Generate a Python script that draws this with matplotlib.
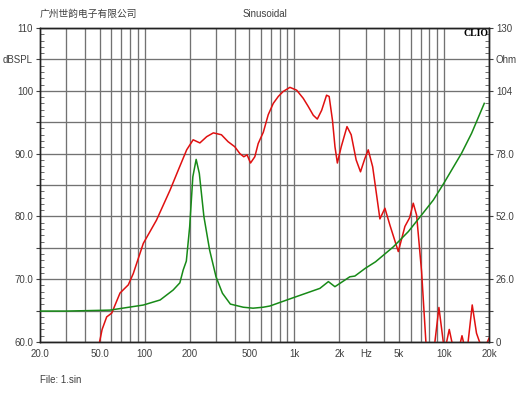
"""CLIO sinusoidal sweep: SPL and impedance vs frequency."""

import matplotlib
matplotlib.use("Agg")
import matplotlib.pyplot as plt
from matplotlib.ticker import FixedLocator, MultipleLocator, NullFormatter

plt.rcParams["font.family"] = ["Liberation Sans", "Noto Sans CJK SC", "DejaVu Sans"]
plt.rcParams["font.size"] = 7

# SPL curve (dBSPL, left axis); values below 60 fall off the chart
spl_freq = [48, 50, 52, 55.8, 60.3, 68.5, 77.8, 84, 98, 120, 148, 168, 191, 211,
            234, 260, 288, 326, 361, 400, 433, 460, 484, 510, 545, 574, 621, 670,
            724, 782, 844, 935, 1037, 1148, 1240, 1340, 1425, 1524, 1643, 1710, 1800,
            1870, 1940, 2060, 2250, 2400, 2590, 2770, 2960, 3120, 3340, 3450, 3734,
            4033, 4356, 4955, 5485, 5900, 6237, 6566, 7090, 7575, 8100,
            8700, 9255, 9900, 10150, 10420, 10850, 11300, 12100, 12900, 13200, 13500,
            14000, 14500, 15450, 16500, 17300, 18500, 19500, 20000]
spl_db = [55, 60, 62, 64.0, 64.6, 67.8, 69.1, 70.9, 75.7, 79.4, 84.2, 87.4, 90.6, 92.2,
          91.7, 92.7, 93.3, 93.0, 91.9, 91.1, 90.0, 89.5, 89.8, 88.5, 89.5, 91.6, 93.4, 96.2,
          98.0, 99.1, 99.9, 100.55, 100.1, 98.8, 97.5, 96.1, 95.5, 96.9, 99.3, 99.1, 95.3,
          91.1, 88.5, 91.1, 94.3, 93.0, 89.0, 87.1, 89.2, 90.6, 87.9, 85.5, 79.6,
          81.3, 78.6, 74.4, 78.4, 79.8, 82.1, 80.2, 71.2, 60, 52,
          60, 65.5, 60, 55, 60, 62.0, 60, 55, 60, 61.0, 60,
          55, 60, 65.9, 61.4, 60, 55, 60, 60.6]

# impedance curve (Ohm, right axis)
imp_freq = [20, 30, 50, 58.6, 98, 127, 155, 172, 181, 190, 200, 210, 221, 232, 249,
            272, 300, 331, 374, 456, 530, 620, 687, 960, 1483, 1690, 1869, 2350, 2540,
            2980, 3490, 4590, 5780, 7090, 8500, 10000, 13100, 15300, 18600]
imp_ohm = [12.8, 12.8, 13.1, 13.2, 15.3, 17.4, 21.5, 24.5, 29.8, 33.5, 47.7, 68.4, 75.6,
           69.8, 51.9, 38.0, 27.0, 20.2, 15.7, 14.4, 14.0, 14.4, 14.9, 18.1, 22.2, 25.0,
           22.9, 27.0, 27.3, 30.5, 33.2, 39.4, 45.7, 52.6, 58.8, 65.8, 78.1, 86.4, 98.8]

grid_freqs = [30, 40, 50, 60, 70, 80, 90, 100, 200, 300, 400, 500, 600, 700, 800, 900,
              1000, 2000, 3000, 4000, 5000, 6000, 7000, 8000, 9000, 10000, 20000]
x_labels = {20: "20.0", 50: "50.0", 100: "100", 200: "200", 500: "500", 1000: "1k",
            2000: "2k", 3000: "Hz", 5000: "5k", 10000: "10k", 20000: "20k"}
spl_ticks = [60, 65, 70, 75, 80, 85, 90, 95, 100, 105, 110]
spl_labels = ["60.0", "", "70.0", "", "80.0", "", "90.0", "", "100", "dBSPL", "110"]
ohm_ticks = [0, 13, 26, 39, 52, 65, 78, 91, 104, 117, 130]
ohm_labels = ["0", "", "26.0", "", "52.0", "", "78.0", "", "104", "Ohm", "130"]

TXT = "#404040"
GRID = "#727272"

fig = plt.figure(figsize=(5.3, 3.98), dpi=100)
fig.patch.set_facecolor("white")
ax = fig.add_axes([40 / 530, 56 / 398, 449 / 530, 314 / 398])
ax.set_xscale("log")
ax.set_xlim(20, 20000)
ax.set_ylim(60, 110)

# vertical grid
for f in grid_freqs:
    ax.axvline(f, color=GRID, lw=0.95, zorder=1)
ax.xaxis.set_major_locator(FixedLocator(list(x_labels.keys())))
ax.set_xticklabels(list(x_labels.values()))
ax.xaxis.set_minor_locator(FixedLocator([]))
ax.xaxis.set_minor_formatter(NullFormatter())
ax.tick_params(axis="x", length=0, pad=5, colors=TXT)

ax.set_yticks(spl_ticks)
ax.set_yticklabels(spl_labels)
ax.yaxis.set_minor_locator(MultipleLocator(1))
ax.tick_params(axis="y", which="major", length=3, direction="out", pad=2, colors=TXT)
ax.tick_params(axis="y", which="minor", length=3, direction="in", color="#555555")
ax.grid(axis="y", color=GRID, lw=0.95, zorder=1)

ax.plot(spl_freq, spl_db, color="#e01010", lw=1.1, zorder=3)

ax2 = ax.twinx()
ax2.set_ylim(0, 130)
ax2.set_yticks(ohm_ticks)
ax2.set_yticklabels(ohm_labels)
ax2.yaxis.set_minor_locator(MultipleLocator(2.6))
ax2.tick_params(axis="y", which="major", length=3, direction="out", pad=2, colors=TXT)
ax2.tick_params(axis="y", which="minor", length=3, direction="in", color="#555555")
ax2.plot(imp_freq, imp_ohm, color="#178a17", lw=1.1, zorder=3)

for a in (ax, ax2):
    for s in a.spines.values():
        s.set_color("#222222")
        s.set_linewidth(1.0)

fig.text(40 / 530, 1 - 14 / 398, "广州世韵电子有限公司", ha="left", va="center",
         fontsize=7, color=TXT, family=["Noto Sans CJK SC"])
fig.text(265 / 530, 1 - 14 / 398, "Sinusoidal", ha="center", va="center",
         fontsize=7, color=TXT)
fig.text(488 / 530, 1 - 33 / 398, "CLIO", ha="right", va="center", fontsize=7,
         fontweight="bold", family=["Liberation Serif"], color="black")
fig.text(40 / 530, 1 - 380 / 398, "File: 1.sin", ha="left", va="center",
         fontsize=7, color=TXT)

fig.savefig("out.png", dpi=100)
